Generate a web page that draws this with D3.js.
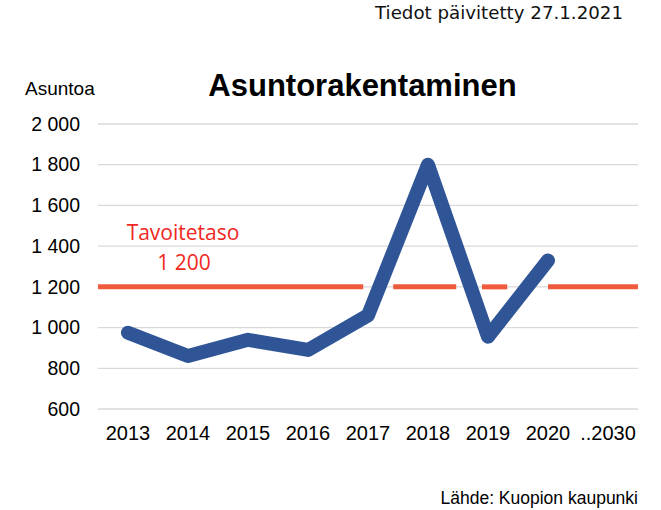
<!DOCTYPE html>
<html><head><meta charset="utf-8">
<script src="https://cdn.jsdelivr.net/npm/d3@7"></script>
<style>body{margin:0;background:#fff}</style>
</head><body>
<svg id="c" width="661" height="510"></svg>
<script>
const categories = ["2013","2014","2015","2016","2017","2018","2019","2020","..2030"];
const years = ["2013","2014","2015","2016","2017","2018","2019","2020"];
const values = [975, 860, 940, 890, 1060, 1800, 955, 1330];
const target = 1200;
// target line visible segments in category-index units
const targetSegments = [[-0.5, 3.92], [4.42, 5.47], [5.9, 6.32], [7.0, 8.5]];
const yTicks = [600, 800, 1000, 1200, 1400, 1600, 1800, 2000];

(function(){
const svg = d3.select("#c");
const mL = 98, mR = 638, mT = 124, mB = 409;
const x = d3.scaleBand().domain(categories).range([mL, mR]);
const xi = d3.scaleLinear().domain([0, 1]).range([mL + x.bandwidth()/2, mL + x.bandwidth()*1.5]);
const y = d3.scaleLinear().domain([600, 2000]).range([mB, mT]);
const fmt = v => d3.format(",")(v).replace(/,/g, " ");

svg.append("g").selectAll("line").data(yTicks).join("line")
  .attr("x1", mL).attr("x2", mR)
  .attr("y1", d => y(d)).attr("y2", d => y(d))
  .attr("stroke", "#d9d9d9").attr("stroke-width", 1.3);

const ya = svg.append("g").attr("transform", `translate(${mL},0)`)
  .call(d3.axisLeft(y).tickValues(yTicks).tickFormat(fmt).tickSize(0).tickPadding(18));
ya.select(".domain").remove();
ya.selectAll("text").attr("font-family", "Liberation Sans, Arial").attr("font-size", 19.5).attr("fill", "#000");

const xa = svg.append("g").attr("transform", `translate(0,${mB})`)
  .call(d3.axisBottom(x).tickSize(0).tickPadding(17));
xa.select(".domain").remove();
xa.selectAll("text").attr("font-family", "Liberation Sans, Arial").attr("font-size", 20).attr("fill", "#000");

svg.append("g").selectAll("line").data(targetSegments).join("line")
  .attr("x1", d => xi(d[0])).attr("x2", d => xi(d[1]))
  .attr("y1", y(target)).attr("y2", y(target))
  .attr("stroke", "#F05A3C").attr("stroke-width", 5);

svg.append("path").datum(values)
  .attr("fill", "none").attr("stroke", "#2F5597").attr("stroke-width", 14)
  .attr("stroke-linejoin", "round").attr("stroke-linecap", "round")
  .attr("d", d3.line().x((d, i) => x(years[i]) + x.bandwidth()/2).y(d => y(d)));

svg.append("text").attr("x", 375).attr("y", 19)
  .attr("textLength", 248).attr("lengthAdjust", "spacingAndGlyphs")
  .attr("font-family", "DejaVu Sans").attr("font-size", 17).attr("fill", "#111")
  .text("Tiedot päivitetty 27.1.2021");
svg.append("text").attr("x", 362.5).attr("y", 96).attr("text-anchor", "middle")
  .attr("font-family", "Liberation Sans, Arial").attr("font-weight", "bold").attr("font-size", 31).attr("fill", "#000")
  .text("Asuntorakentaminen");
svg.append("text").attr("x", 25).attr("y", 95)
  .attr("font-family", "Liberation Sans, Arial").attr("font-size", 19).attr("fill", "#000")
  .text("Asuntoa");
svg.append("text").attr("x", 183).attr("y", 240).attr("text-anchor", "middle")
  .attr("font-family", "Open Sans, Noto Sans").attr("font-size", 21).attr("fill", "#F0281E")
  .text("Tavoitetaso");
svg.append("text").attr("x", 184).attr("y", 270).attr("text-anchor", "middle")
  .attr("font-family", "Open Sans, Noto Sans").attr("font-size", 21).attr("fill", "#F0281E")
  .text(fmt(target));
svg.append("text").attr("x", 638).attr("y", 504).attr("text-anchor", "end")
  .attr("font-family", "Liberation Sans, Arial").attr("font-size", 17.5).attr("fill", "#000")
  .text("Lähde: Kuopion kaupunki");
})();
</script>
</body></html>
